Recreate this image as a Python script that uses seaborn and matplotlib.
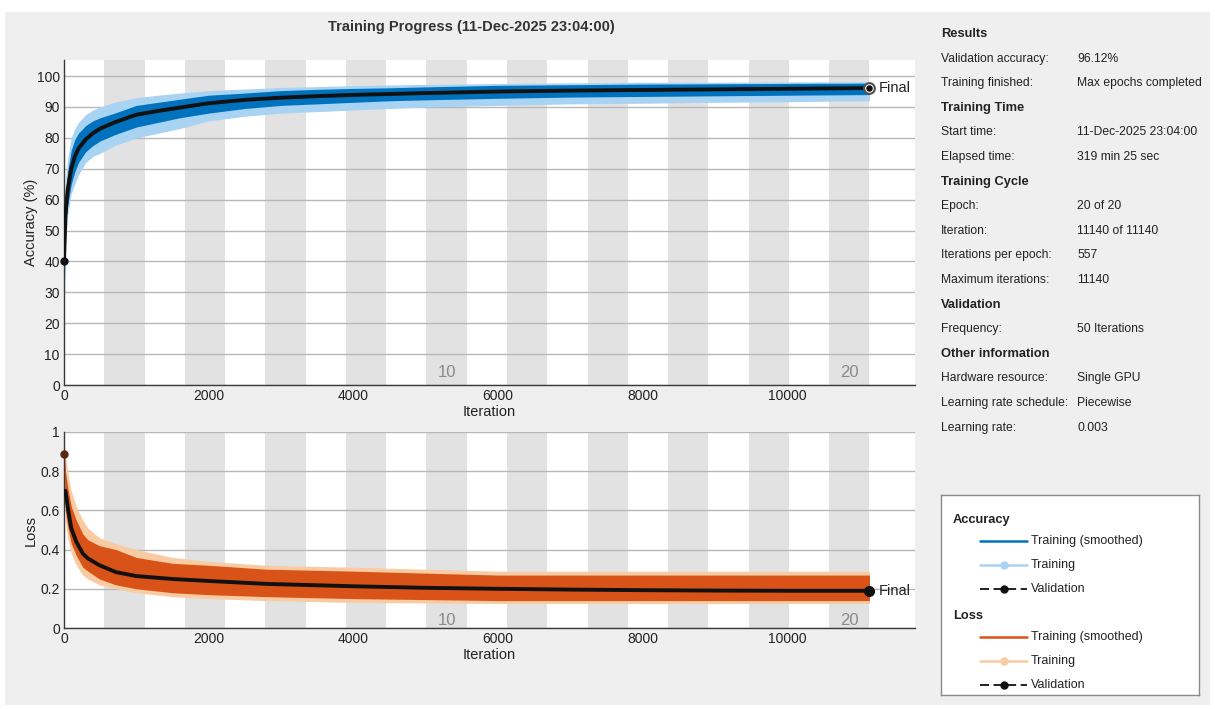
import numpy as np
import pandas as pd
import matplotlib
matplotlib.use("Agg")
import matplotlib.pyplot as plt
from matplotlib import font_manager
from matplotlib.patches import Rectangle
import seaborn as sns

# ---------------- data ----------------
iters_per_epoch = 557
n_epochs = 20
max_iter = 11140

acc_iter = [0, 20, 50, 100, 150, 200, 300, 400, 500, 700, 1000, 1300, 1600, 2000,
            2500, 3000, 3500, 4000, 4500, 5000, 6000, 7000, 8000, 9000, 10000, 11140]
acc_val = [40, 55, 63, 70, 74, 76.5, 79.5, 81.5, 83, 85, 87.5, 88.7, 89.8, 91.2,
           92.3, 93.0, 93.5, 93.9, 94.2, 94.5, 95.0, 95.3, 95.5, 95.7, 95.9, 96.12]
acc_sm_lo = [25, 50, 58, 65, 69, 72, 75.5, 77.5, 79, 81, 83.5, 85, 86.5, 88,
             89.5, 90.5, 91, 91.5, 92, 92.3, 92.8, 93.2, 93.4, 93.6, 93.8, 94]
acc_sm_hi = [40, 62, 69, 76, 79.5, 81.5, 84, 85.5, 86.5, 88, 90.5, 91.5, 92.5, 93.8,
             94.5, 95.3, 95.7, 96, 96.2, 96.5, 97, 97.2, 97.4, 97.5, 97.6, 97.7]
acc_raw_lo = [20, 45, 55, 62, 65, 68, 72, 74, 75, 77.5, 80, 81.5, 83, 85.5,
              87, 88, 88.5, 89, 89.5, 90, 90.5, 91, 91.2, 91.5, 91.7, 92]
acc_raw_hi = [45, 66, 73, 80, 83, 85, 87.5, 89, 90, 91.5, 93, 93.8, 94.5, 95.3,
              95.8, 96.3, 96.6, 96.9, 97.1, 97.3, 97.6, 97.8, 98, 98, 98.1, 98.2]

loss_iter = [0, 20, 50, 100, 170, 260, 330, 490, 720, 1000, 1500, 2000, 2800,
             4000, 5000, 6000, 7000, 8000, 9000, 10000, 11140]
loss_val = [0.89, 0.70, 0.62, 0.51, 0.44, 0.38, 0.355, 0.32, 0.285, 0.265, 0.25,
            0.24, 0.225, 0.213, 0.205, 0.200, 0.196, 0.193, 0.191, 0.190, 0.190]
loss_sm_lo = [0.85, 0.60, 0.52, 0.43, 0.37, 0.31, 0.29, 0.25, 0.22, 0.20, 0.18,
              0.17, 0.16, 0.15, 0.145, 0.14, 0.14, 0.14, 0.14, 0.14, 0.14]
loss_sm_hi = [0.95, 0.80, 0.72, 0.62, 0.55, 0.48, 0.45, 0.42, 0.40, 0.36, 0.33,
              0.32, 0.30, 0.29, 0.28, 0.27, 0.27, 0.27, 0.27, 0.27, 0.27]
loss_raw_lo = [0.80, 0.55, 0.46, 0.38, 0.32, 0.27, 0.25, 0.22, 0.20, 0.18, 0.16,
               0.15, 0.14, 0.13, 0.128, 0.125, 0.125, 0.125, 0.125, 0.125, 0.125]
loss_raw_hi = [0.98, 0.88, 0.80, 0.70, 0.62, 0.55, 0.51, 0.46, 0.43, 0.40, 0.36,
               0.34, 0.32, 0.31, 0.30, 0.29, 0.29, 0.29, 0.29, 0.29, 0.29]

acc_ticks = [0, 10, 20, 30, 40, 50, 60, 70, 80, 90, 100]
loss_ticks = [0, 0.2, 0.4, 0.6, 0.8, 1]
x_ticks = [0, 2000, 4000, 6000, 8000, 10000]

title_text = "Training Progress (11-Dec-2025 23:04:00)"
info_rows = [
    ("Results", None),
    ("Validation accuracy:", "96.12%"),
    ("Training finished:", "Max epochs completed"),
    ("Training Time", None),
    ("Start time:", "11-Dec-2025 23:04:00"),
    ("Elapsed time:", "319 min 25 sec"),
    ("Training Cycle", None),
    ("Epoch:", "20 of 20"),
    ("Iteration:", "11140 of 11140"),
    ("Iterations per epoch:", "557"),
    ("Maximum iterations:", "11140"),
    ("Validation", None),
    ("Frequency:", "50 Iterations"),
    ("Other information", None),
    ("Hardware resource:", "Single GPU"),
    ("Learning rate schedule:", "Piecewise"),
    ("Learning rate:", "0.003"),
]

# ---------------- style ----------------
C_ACC_SM = "#0072BD"
C_ACC_RAW = "#A9D3F2"
C_LOSS_SM = "#D95319"
C_LOSS_RAW = "#F9CBA2"
C_BAND = "#e2e2e2"
C_BG = "#efefef"
C_GRID = "#b8b8b8"
C_TXT = "#222222"

sns.set_theme(style="white")
avail = {f.name for f in font_manager.fontManager.ttflist}
base_font = "Liberation Sans" if "Liberation Sans" in avail else "DejaVu Sans"
plt.rcParams["font.family"] = [base_font, "DejaVu Sans"]

W, H = 1215, 709
fig = plt.figure(figsize=(W / 100, H / 100), dpi=100, facecolor="white")
fig.patches.append(Rectangle((5 / W, 4 / H), 1 - 10 / W, 1 - 16 / H,
                             transform=fig.transFigure, facecolor=C_BG,
                             edgecolor="none", zorder=-10))


def fx(px):
    return px / W


def fy(py):
    return 1 - py / H


def style_axes(ax, yticks, ylim):
    ax.set_facecolor("white")
    for e in range(1, n_epochs, 2):
        ax.axvspan(e * iters_per_epoch, (e + 1) * iters_per_epoch,
                   color=C_BAND, lw=0, zorder=0.1)
    ax.set_xlim(0, 11770)
    ax.set_ylim(*ylim)
    ax.set_yticks(yticks)
    ax.set_yticklabels([("%g" % t) for t in yticks])
    ax.set_xticks(x_ticks)
    ax.set_xticklabels([str(t) for t in x_ticks])
    ax.yaxis.grid(True, color=C_GRID, lw=1.0)
    ax.xaxis.grid(False)
    ax.set_axisbelow(True)
    for s in ["top", "right"]:
        ax.spines[s].set_visible(False)
    for s in ["left", "bottom"]:
        ax.spines[s].set_color("#3a3a3a")
        ax.spines[s].set_linewidth(1.0)
    ax.tick_params(direction="in", length=5, width=1, colors="#3a3a3a",
                   labelsize=10, labelcolor=C_TXT, pad=3)
    ymin, ymax = ylim
    for e in (10, 20):
        xc = (e - 0.5) * iters_per_epoch
        ax.text(xc, ymin + 0.04 * (ymax - ymin), str(e), ha="center",
                va="center", fontsize=12, color="#8a8a8a", zorder=1)


# ---------------- accuracy ----------------
ax1 = fig.add_axes([fx(64), fy(385), fx(915 - 64), (385 - 60) / H])
style_axes(ax1, acc_ticks, (0, 105.2))
ax1.fill_between(acc_iter, acc_raw_lo, acc_raw_hi, color=C_ACC_RAW, lw=0, zorder=2)
ax1.fill_between(acc_iter, acc_sm_lo, acc_sm_hi, color=C_ACC_SM, lw=0, zorder=2.5)
acc_df = pd.DataFrame({"Iteration": acc_iter, "Validation": acc_val})
sns.lineplot(data=acc_df, x="Iteration", y="Validation", ax=ax1, color="#111111",
             lw=2.8, estimator=None, sort=False, zorder=3)
ax1.plot([acc_iter[0]], [acc_val[0]], "o", color="#111111", ms=5, zorder=4,
         clip_on=False)
ax1.plot([acc_iter[-1]], [acc_val[-1]], "o", mfc="#111111", mec="#555555",
         ms=8, mew=1.2, zorder=4)
ax1.plot([acc_iter[-1]], [acc_val[-1]], "o", mfc="none", mec="white",
         ms=5.5, mew=0.8, zorder=4.5)
ax1.text(acc_iter[-1] + 130, acc_val[-1], "Final", va="center", ha="left",
         fontsize=10.5, color=C_TXT, zorder=5)
ax1.set_xlabel("Iteration", fontsize=10.5, color=C_TXT, labelpad=1)
ax1.set_ylabel("Accuracy (%)", fontsize=10.5, color=C_TXT)
ax1.yaxis.set_label_coords((38 - 64) / 851, 0.5)

# ---------------- loss ----------------
ax2 = fig.add_axes([fx(64), fy(628), fx(915 - 64), (628 - 432) / H])
style_axes(ax2, loss_ticks, (0, 1.0))
ax2.fill_between(loss_iter, loss_raw_lo, loss_raw_hi, color=C_LOSS_RAW, lw=0, zorder=2)
ax2.fill_between(loss_iter, loss_sm_lo, loss_sm_hi, color=C_LOSS_SM, lw=0, zorder=2.5)
loss_df = pd.DataFrame({"Iteration": loss_iter, "Validation": loss_val})
sns.lineplot(data=loss_df.iloc[1:], x="Iteration", y="Validation", ax=ax2,
             color="#111111", lw=2.8, estimator=None, sort=False, zorder=3)
ax2.plot([loss_iter[0]], [loss_val[0]], "o", color="#5a2a10", ms=5, zorder=4,
         clip_on=False)
ax2.plot([loss_iter[-1]], [loss_val[-1]], "o", color="#111111", ms=7, zorder=4)
ax2.text(loss_iter[-1] + 130, loss_val[-1], "Final", va="center", ha="left",
         fontsize=10.5, color=C_TXT, zorder=5)
ax2.set_xlabel("Iteration", fontsize=10.5, color=C_TXT, labelpad=1)
ax2.set_ylabel("Loss", fontsize=10.5, color=C_TXT)
ax2.yaxis.set_label_coords((38 - 64) / 851, 0.5)

# ---------------- title ----------------
fig.text(fx(471), fy(27), title_text, ha="center", va="center", fontsize=10.5,
         fontweight="bold", color="#333333")

# ---------------- info panel ----------------
y0, step = 34, 24.6
for i, (k, v) in enumerate(info_rows):
    y = y0 + i * step
    if v is None:
        fig.text(fx(941), fy(y), k, ha="left", va="center", fontsize=9.3,
                 fontweight="bold", color=C_TXT)
    else:
        fig.text(fx(941), fy(y), k, ha="left", va="center", fontsize=8.7,
                 color=C_TXT)
        fig.text(fx(1077), fy(y), v, ha="left", va="center", fontsize=8.7,
                 color=C_TXT)

# ---------------- legend box ----------------
axl = fig.add_axes([fx(941), fy(695), fx(1199 - 941), (695 - 495) / H])
axl.set_xlim(941, 1199)
axl.set_ylim(695, 495)
axl.set_xticks([])
axl.set_yticks([])
axl.set_facecolor("white")
for s in axl.spines.values():
    s.set_color("#8a8a8a")
    s.set_linewidth(1.0)


def leg_group(ytitle, title, c_sm, c_raw):
    axl.text(953, ytitle, title, ha="left", va="center", fontsize=9.3,
             fontweight="bold", color=C_TXT)
    ys = [ytitle + 21, ytitle + 45, ytitle + 69]
    axl.plot([980, 1027], [ys[0], ys[0]], color=c_sm, lw=1.8)
    axl.plot([980, 1027], [ys[1], ys[1]], color=c_raw, lw=1.8)
    axl.plot([1003.5], [ys[1]], "o", color=c_raw, ms=5)
    axl.plot([980, 1027], [ys[2], ys[2]], color="#111111", lw=1.3, ls=(0, (5, 2.5)))
    axl.plot([1003.5], [ys[2]], "o", color="#111111", ms=5)
    for y, t in zip(ys, ["Training (smoothed)", "Training", "Validation"]):
        axl.text(1031, y, t, ha="left", va="center", fontsize=9, color=C_TXT)


leg_group(520, "Accuracy", C_ACC_SM, C_ACC_RAW)
leg_group(616, "Loss", C_LOSS_SM, C_LOSS_RAW)

fig.savefig("out.png", dpi=100, facecolor="white")
